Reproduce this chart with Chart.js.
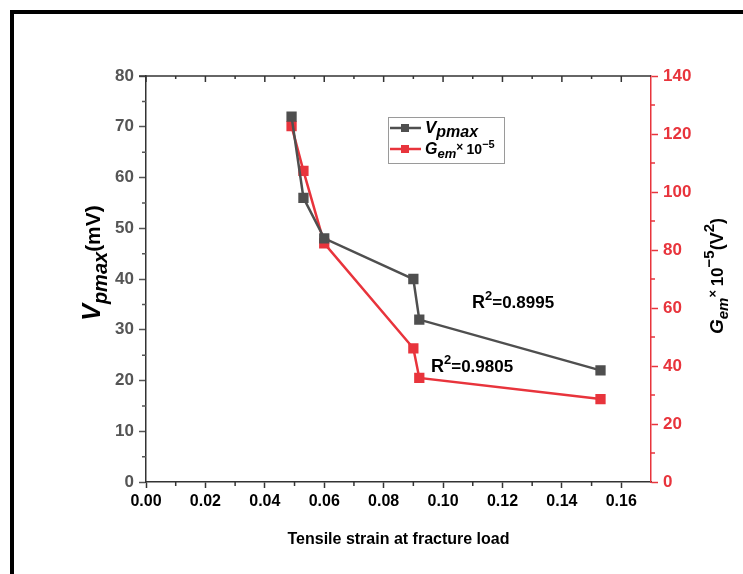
<!DOCTYPE html>
<html>
<head>
<meta charset="utf-8">
<script src="https://cdn.jsdelivr.net/npm/chart.js@4.4.1/dist/chart.umd.min.js"></script>
<style>
html,body{margin:0;padding:0;background:#fff;}
#wrap{width:743px;height:574px;position:relative;}
</style>
</head>
<body>
<div id="wrap"><canvas id="c"></canvas></div>
<script>
// ---- data ----
const strain = [0.049, 0.053, 0.060, 0.090, 0.092, 0.153];
const vpmax = [72, 56, 48, 40, 32, 22];
const gem = [122.7, 107.3, 82.3, 46.1, 35.9, 28.6];
const xTicks = [0, 0.02, 0.04, 0.06, 0.08, 0.10, 0.12, 0.14, 0.16];
const leftTicks = [0, 10, 20, 30, 40, 50, 60, 70, 80];
const rightTicks = [0, 20, 40, 60, 80, 100, 120, 140];
const r2Labels = ['0.8995', '0.9805'];

const GRAY = '#4f4f4f';
const RED = '#e8343c';
const FONT = '"Liberation Sans", Arial, sans-serif';

function drawRich(ctx, segs, x, y, align) {
  let total = 0;
  segs.forEach(s => { ctx.font = s.font; s.w = ctx.measureText(s.t).width; total += s.w; });
  let cx = align === 'center' ? x - total / 2 : x;
  segs.forEach(s => {
    ctx.font = s.font;
    ctx.fillStyle = s.color || '#000';
    ctx.fillText(s.t, cx, y + (s.dy || 0));
    cx += s.w;
  });
}

const decor = {
  id: 'decor',
  afterDraw(chart) {
    const ctx = chart.ctx;
    const {x, y, y1} = chart.scales;
    const ca = chart.chartArea;
    ctx.save();
    // outer frame
    ctx.strokeStyle = '#000';
    ctx.lineWidth = 4;
    ctx.beginPath();
    ctx.moveTo(12, 574); ctx.lineTo(12, 12); ctx.lineTo(745, 12);
    ctx.stroke();

    // top frame line with inward ticks
    ctx.strokeStyle = '#333';
    ctx.lineWidth = 1.5;
    ctx.beginPath();
    ctx.moveTo(ca.left - 7, ca.top); ctx.lineTo(ca.right, ca.top);
    ctx.stroke();
    ctx.beginPath();
    for (let v = 0; v <= 0.1601; v += 0.01) {
      const px = x.getPixelForValue(v);
      const major = Math.abs(v / 0.02 - Math.round(v / 0.02)) < 1e-6;
      ctx.moveTo(px, ca.top); ctx.lineTo(px, ca.top + (major ? 6 : 3));
      if (!major) { ctx.moveTo(px, ca.bottom); ctx.lineTo(px, ca.bottom + 4); }
    }
    ctx.stroke();
    // left minor ticks
    ctx.strokeStyle = '#555';
    ctx.beginPath();
    for (let v = 5; v < 80; v += 10) {
      const py = y.getPixelForValue(v);
      ctx.moveTo(ca.left, py); ctx.lineTo(ca.left - 4, py);
    }
    ctx.stroke();
    // right minor ticks
    ctx.strokeStyle = RED;
    ctx.beginPath();
    for (let v = 10; v < 140; v += 20) {
      const py = y1.getPixelForValue(v);
      ctx.moveTo(ca.right, py); ctx.lineTo(ca.right + 4, py);
    }
    ctx.stroke();

    ctx.textBaseline = 'alphabetic';
    // x title
    ctx.fillStyle = '#000';
    ctx.font = 'bold 16px ' + FONT;
    ctx.textAlign = 'center';
    ctx.fillText('Tensile strain at fracture load', (ca.left + ca.right) / 2, 544);
    ctx.textAlign = 'left';

    // left title
    ctx.save();
    ctx.translate(100, 263);
    ctx.rotate(-Math.PI / 2);
    drawRich(ctx, [
      {t: 'V', font: 'italic bold 25px ' + FONT},
      {t: 'pmax', font: 'italic bold 20px ' + FONT, dy: 7},
      {t: '(mV)', font: 'bold 21px ' + FONT}
    ], 0, 0, 'center');
    ctx.restore();

    // right title
    ctx.save();
    ctx.translate(723, 276);
    ctx.rotate(-Math.PI / 2);
    drawRich(ctx, [
      {t: 'G', font: 'italic bold 19px ' + FONT},
      {t: 'em', font: 'italic bold 15px ' + FONT, dy: 5},
      {t: '× ', font: 'bold 13px ' + FONT, dy: -6},
      {t: '10', font: 'bold 17px ' + FONT},
      {t: '−5', font: 'bold 15px ' + FONT, dy: -9},
      {t: '(V', font: 'bold 18px ' + FONT},
      {t: '2', font: 'bold 15px ' + FONT, dy: -9},
      {t: ')', font: 'bold 18px ' + FONT}
    ], 0, 0, 'center');
    ctx.restore();

    // R^2 annotations
    drawRich(ctx, [
      {t: 'R', font: 'bold 18px ' + FONT},
      {t: '2', font: 'bold 13px ' + FONT, dy: -8},
      {t: '=' + r2Labels[0], font: 'bold 17px ' + FONT}
    ], 472, 308, 'left');
    drawRich(ctx, [
      {t: 'R', font: 'bold 18px ' + FONT},
      {t: '2', font: 'bold 13px ' + FONT, dy: -8},
      {t: '=' + r2Labels[1], font: 'bold 17px ' + FONT}
    ], 431, 372, 'left');

    // legend
    const lx = 388, ly = 117, lw = 116, lh = 46;
    ctx.strokeStyle = '#9a9a9a';
    ctx.lineWidth = 1;
    ctx.strokeRect(lx + 0.5, ly + 0.5, lw, lh);
    const rows = [
      {c: GRAY, y: ly + 11, segs: [
        {t: 'V', font: 'italic bold 17px ' + FONT},
        {t: 'pmax', font: 'italic bold 16px ' + FONT, dy: 4}
      ]},
      {c: RED, y: ly + 32, segs: [
        {t: 'G', font: 'italic bold 16px ' + FONT},
        {t: 'em', font: 'italic bold 13px ' + FONT, dy: 4},
        {t: '× ', font: 'bold 12px ' + FONT, dy: -3},
        {t: '10', font: 'bold 14px ' + FONT},
        {t: '−5', font: 'bold 11px ' + FONT, dy: -6}
      ]}
    ];
    rows.forEach(r => {
      ctx.strokeStyle = r.c;
      ctx.lineWidth = 2.5;
      ctx.beginPath(); ctx.moveTo(lx + 2, r.y); ctx.lineTo(lx + 33, r.y); ctx.stroke();
      ctx.fillStyle = r.c;
      ctx.fillRect(lx + 13, r.y - 4, 8, 8);
      drawRich(ctx, r.segs, lx + 37, r.y + 5, 'left');
    });
    ctx.restore();
  }
};

const pts = (ys) => strain.map((s, i) => ({x: s, y: ys[i]}));

new Chart(document.getElementById('c'), {
  type: 'scatter',
  data: {
    datasets: [
      {label: 'Vpmax', data: pts(vpmax), yAxisID: 'y', showLine: true,
       borderColor: GRAY, backgroundColor: GRAY, borderWidth: 2.5,
       pointStyle: 'rect', pointRadius: 5.5, pointHoverRadius: 5.5},
      {label: 'Gem', data: pts(gem), yAxisID: 'y1', showLine: true,
       borderColor: RED, backgroundColor: RED, borderWidth: 2.5,
       pointStyle: 'rect', pointRadius: 5.5, pointHoverRadius: 5.5}
    ]
  },
  options: {
    responsive: true,
    maintainAspectRatio: false,
    animation: false,
    events: [],
    layout: {padding: {top: 76, left: 0, right: 0, bottom: 0}},
    plugins: {legend: {display: false}, tooltip: {enabled: false}},
    scales: {
      x: {
        type: 'linear', min: 0, max: 0.17,
        afterBuildTicks: s => { s.ticks = xTicks.map(v => ({value: v})); },
        afterFit: s => { s.height = 92; },
        ticks: {callback: v => Number(v).toFixed(2), color: '#000',
                font: {family: FONT, size: 16, weight: 'bold'}, padding: 4, maxRotation: 0},
        grid: {drawOnChartArea: false, tickLength: 6, tickColor: '#333', tickWidth: 1.5},
        border: {color: '#333', width: 1.5}
      },
      y: {
        type: 'linear', position: 'left', min: 0, max: 80,
        afterBuildTicks: s => { s.ticks = leftTicks.map(v => ({value: v})); },
        afterFit: s => { s.width = 146; },
        ticks: {color: '#555', font: {family: FONT, size: 17, weight: 'bold'}, padding: 5},
        grid: {drawOnChartArea: false, tickLength: 7, tickColor: '#555', tickWidth: 1.5},
        border: {color: '#333', width: 1.5}
      },
      y1: {
        type: 'linear', position: 'right', min: 0, max: 140,
        afterBuildTicks: s => { s.ticks = rightTicks.map(v => ({value: v})); },
        afterFit: s => { s.width = 92; },
        ticks: {color: RED, font: {family: FONT, size: 17, weight: 'bold'}, padding: 5},
        grid: {drawOnChartArea: false, tickLength: 7, tickColor: RED, tickWidth: 1.5},
        border: {color: RED, width: 1.5}
      }
    }
  },
  plugins: [decor]
});
</script>
</body>
</html>
